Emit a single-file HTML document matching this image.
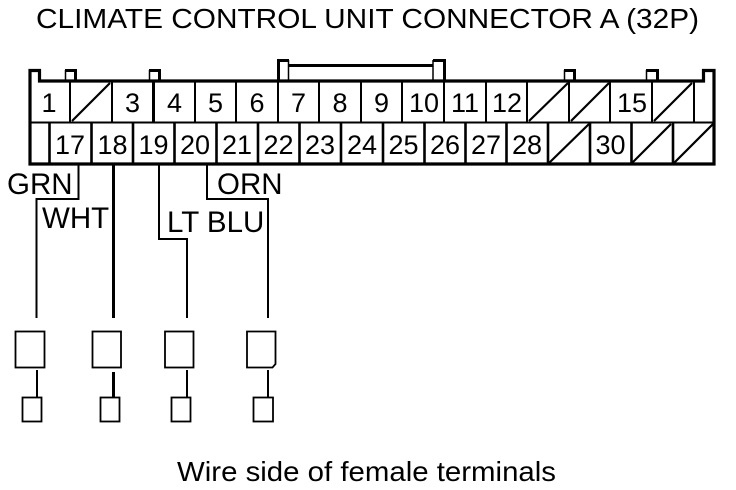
<!DOCTYPE html>
<html><head><meta charset="utf-8"><style>
html,body{margin:0;padding:0;background:#fff;width:736px;height:490px;overflow:hidden}
svg{display:block}
text{font-family:"Liberation Sans",sans-serif;font-size:27px;fill:#000}
.n{text-anchor:middle}
.l{font-size:29.5px}
</style></head><body>
<svg width="736" height="490" viewBox="0 0 736 490" xmlns="http://www.w3.org/2000/svg">
<rect width="736" height="490" fill="#fff"/>
<text x="36" y="28" style="font-size:27.5px" textLength="663" lengthAdjust="spacingAndGlyphs">CLIMATE CONTROL UNIT CONNECTOR A (32P)</text>

<!-- outer shell -->
<path fill="none" stroke="#000" stroke-width="3.2" d="M30 164V70.500H39.500V81H703.500V70.500H714V164Z"/>
<!-- large tabs -->
<path fill="none" stroke="#000" stroke-width="3" d="M278.500 81V60.500H289M433 60.500H444.500V81"/>
<path fill="none" stroke="#000" stroke-width="1.5" d="M288.500 60V80M433 60V80"/>
<path d="M289 65.500H433" stroke="#000" stroke-width="3"/>
<!-- small tabs -->
<path fill="none" stroke="#000" stroke-width="1.500" d="M65.500 80V70M149.500 80V70M564.500 80V70M646.500 80V70"/>
<path fill="none" stroke="#000" stroke-width="3" d="M65 70.500H75.500V80M149 70.500H159.500V80M564 70.500H574.500V80M646 70.500H657.500V80"/>
<!-- middle -->
<path d="M30 122.500H714" stroke="#000" stroke-width="2"/>
<!-- top row verticals -->
<g stroke="#000" stroke-width="2">
<path d="M70 81V122M112 81V122M195 81V122M236 81V122M278 81V122M319 81V122M361 81V122M402 81V122M444 81V122M486 81V122M527 81V122M569 81V122M610 81V122M652 81V122M694 81V122"/>
<path d="M153.500 81V122" stroke-width="3"/>
<!-- bottom row verticals -->
<path stroke-width="2.600" d="M49.500 123V164M91.500 123V164M133 123V164M174.500 123V164M216.500 123V164M258 123V164M299.500 123V164M341 123V164M383 123V164M424.500 123V164M465.500 123V164M506.500 123V164M548 123V164M590 123V164M631.500 123V164M673 123V164"/>
</g>
<!-- diagonals -->
<g stroke="#000" stroke-width="2.200">
<path d="M72 121L110 83M529 121L568 83M571 121L609 83M654 121L692 83"/>
<path d="M549 163L589 124M632 163L671 124M674 163L713 124"/>
</g>
<!-- numbers -->
<text class="n" x="49" y="112">1</text>
<text class="n" x="132.500" y="112">3</text>
<text class="n" x="174.500" y="112">4</text>
<text class="n" x="215.500" y="112">5</text>
<text class="n" x="257" y="112">6</text>
<text class="n" x="298.500" y="112">7</text>
<text class="n" x="340" y="112">8</text>
<text class="n" x="381.500" y="112">9</text>
<text class="n" x="424" y="112">10</text>
<text class="n" x="465" y="112">11</text>
<text class="n" x="507" y="112">12</text>
<text class="n" x="632" y="112">15</text>
<text class="n" x="70" y="154">17</text>
<text class="n" x="112.500" y="154">18</text>
<text class="n" x="153.500" y="154">19</text>
<text class="n" x="195" y="154">20</text>
<text class="n" x="237" y="154">21</text>
<text class="n" x="278.500" y="154">22</text>
<text class="n" x="320" y="154">23</text>
<text class="n" x="362" y="154">24</text>
<text class="n" x="403.500" y="154">25</text>
<text class="n" x="445" y="154">26</text>
<text class="n" x="486" y="154">27</text>
<text class="n" x="527" y="154">28</text>
<text class="n" x="610.500" y="154">30</text>
<!-- wires -->
<g fill="none" stroke="#000">
<path stroke-width="2" d="M78.500 165V199H36.500V318"/>
<path stroke-width="3" d="M113.500 165V318"/>
<path stroke-width="2" d="M159 165V239H187V318"/>
<path stroke-width="2" d="M207 165V199H268V318"/>
</g>
<text class="l" x="7" y="194">GRN</text>
<text class="l" x="42" y="228">WHT</text>
<text class="l" x="167" y="232">LT BLU</text>
<text class="l" x="217" y="194">ORN</text>
<!-- terminals -->
<g fill="none" stroke="#000" stroke-width="1.800">
<rect x="15.500" y="331.500" width="29" height="36"/>
<rect x="92.500" y="331.500" width="28.500" height="36"/>
<rect x="165" y="331.500" width="28.500" height="36"/>
<path d="M247 331.500H275.500V364L272.500 367.500H247Z"/>
<rect x="22.500" y="397.500" width="19" height="24"/>
<rect x="100.500" y="397.500" width="19" height="24"/>
<rect x="171.500" y="397.500" width="19" height="24"/>
<rect x="253.500" y="397.500" width="19.500" height="24"/>
</g>
<g stroke="#000">
<path stroke-width="2" d="M37 370V397M187 370V397M268 370V397"/>
<path stroke-width="3" d="M113.500 372V398"/>
</g>
<text x="177" y="481" style="font-size:27.5px" textLength="379" lengthAdjust="spacingAndGlyphs">Wire side of female terminals</text>
</svg>
</body></html>
